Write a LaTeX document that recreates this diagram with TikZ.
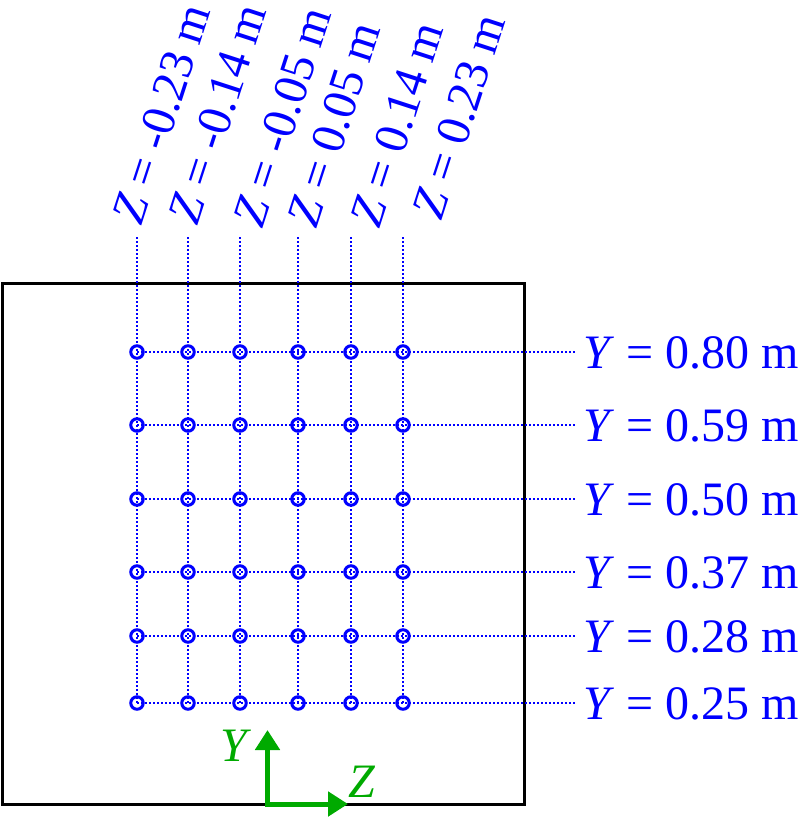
\documentclass[tikz,border=0pt]{standalone}
\usepackage{fontspec}
\setmainfont{Liberation Serif}
\usetikzlibrary{arrows.meta}
\definecolor{lblue}{RGB}{0,0,255}
\definecolor{lgreen}{RGB}{0,170,0}
\tikzset{
  grid line/.style={draw=lblue, line width=1.3pt, dash pattern=on 2pt off 2pt},
  probe/.style={circle, draw=lblue, line width=3pt, minimum size=12.5pt, inner sep=0pt},
  zlabel/.style={rotate=72, anchor=base west, inner sep=0pt, text=lblue, font=\fontsize{48}{52}\selectfont},
  ylabel/.style={anchor=base west, inner sep=0pt, text=lblue, font=\fontsize{48}{52}\selectfont},
  axis arrow/.style={draw=lgreen, line width=5pt, -{Triangle[length=20pt,width=24pt]}},
  axis label/.style={text=lgreen, inner sep=0pt, font=\fontsize{48}{52}\selectfont\itshape},
  frame/.style={draw=black, line width=3pt}
}
\begin{document}
\begin{tikzpicture}[x=1pt,y=-1pt]
\useasboundingbox (0,0) rectangle (800,817);
% frame
\draw[frame] (2.5,283) rectangle (524,804);
% probe nodes
\def\cols{137,188,240,298,351,403}
\def\rows{352,425,499,572,636,703}
\foreach \x [count=\j] in \cols {
  \foreach \y [count=\i] in \rows {
    \node[probe] (c-\i-\j) at (\x,\y) {};
  }
  \coordinate (top-\j) at (\x,237);
}
\foreach \y [count=\i] in \rows {
  \coordinate (end-\i) at (575,\y);
}
% grid lines
\foreach \j in {1,...,6} {
  \draw[grid line] (top-\j) -- (c-6-\j.center);
}
\foreach \i in {1,...,6} {
  \draw[grid line] (c-\i-1.center) -- (end-\i);
}
% Z labels
\node[zlabel] (z1) at (141,227) {\textit{Z} = -0.23 m};
\node[zlabel] (z2) at (197,227) {\textit{Z} = -0.14 m};
\node[zlabel] (z3) at (262,230) {\textit{Z} = -0.05 m};
\node[zlabel] (z4) at (316,230) {\textit{Z} = 0.05 m};
\node[zlabel] (z5) at (379,230) {\textit{Z} = 0.14 m};
\node[zlabel] (z6) at (441,222) {\textit{Z} = 0.23 m};
% Y labels
\node[ylabel] (y1) at (583,368) {\textit{Y} = 0.80 m};
\node[ylabel] (y2) at (583,441) {\textit{Y} = 0.59 m};
\node[ylabel] (y3) at (583,515) {\textit{Y} = 0.50 m};
\node[ylabel] (y4) at (583,588) {\textit{Y} = 0.37 m};
\node[ylabel] (y5) at (583,652) {\textit{Y} = 0.28 m};
\node[ylabel] (y6) at (583,719) {\textit{Y} = 0.25 m};
% axes
\coordinate (o) at (267.5,804);
\coordinate (ytip) at (267.5,730);
\coordinate (ztip) at (348,804);
\draw[axis arrow] ([yshift=2.5pt]o) -- (ytip);
\draw[axis arrow] ([xshift=-2.5pt]o) -- (ztip);
\node[axis label] (ylab) at (234,746) {Y};
\node[axis label] (zlab) at (362,782) {Z};
\end{tikzpicture}
\end{document}
